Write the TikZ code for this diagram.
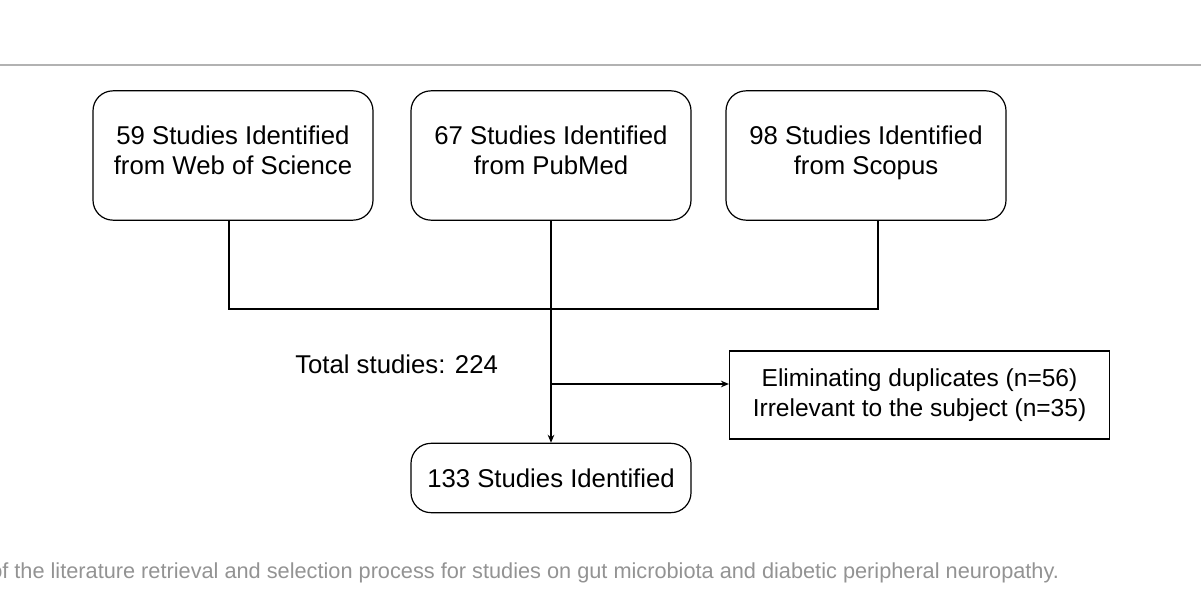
\documentclass[tikz,border=0pt]{standalone}
\usepackage{fontspec}
\setmainfont{Liberation Sans}
\usetikzlibrary{positioning,arrows.meta}
\begin{document}
\begin{tikzpicture}[x=0.75pt,y=-0.75pt, line cap=round,
  src/.style={draw, rounded corners=15pt, line width=0.9pt, minimum width=210pt, minimum height=97pt, align=center, font=\fontsize{19.3pt}{22.5pt}\selectfont},
  box/.style={draw, line width=0.9pt, align=center, font=\fontsize{18.4pt}{22.5pt}\selectfont},
  link/.style={line width=0.9pt}]
  \useasboundingbox (0,0) rectangle (1201,605);
  \clip (0,0) rectangle (1201,605);
  % linie boven
  \draw[gray!60, line width=0.8pt] (0,65) -- (1201,65);

  % bronnen
  \node[src, text depth=8pt] (wos) at (233,155.5) {59 Studies Identified\\from Web of Science};
  \node[src, text depth=8pt] (pub) at (551,155.5) {67 Studies Identified\\from PubMed};
  \node[src, text depth=8pt] (sco) at (866,155.5) {98 Studies Identified\\from Scopus};

  % resultaat
  \node[src, minimum height=52pt] (res) at (551,478) {133 Studies Identified};
  \node[box, minimum width=285pt, minimum height=66pt] (excl) at (919.5,395) {Eliminating duplicates (n=56)\\Irrelevant to the subject (n=35)};

  % verbindingen
  \coordinate (jl) at (229,309);
  \coordinate (jr) at (878,309);
  \coordinate (br) at (551,384);
  \draw[link] (wos.south -| jl) -- (jl) -- (jr) -- (sco.south -| jr);
  \draw[link, -{Stealth[length=6pt,width=5pt]}] (pub.south) -- (res.north);
  \draw[link, -{Stealth[length=6pt,width=5pt]}] (br) -- (br -| excl.west);

  \node[font=\fontsize{19.3pt}{22pt}\selectfont, anchor=west, inner sep=0pt] (tot) at (295,364) {Total studies: 224};

  % bijschrift
  \node[anchor=west, text=gray!85, font=\fontsize{16.3pt}{19pt}\selectfont, inner sep=0pt] (cap) at (-10,573)
    {of the literature retrieval and selection process for studies on gut microbiota and diabetic peripheral neuropathy.};
\end{tikzpicture}
\end{document}
